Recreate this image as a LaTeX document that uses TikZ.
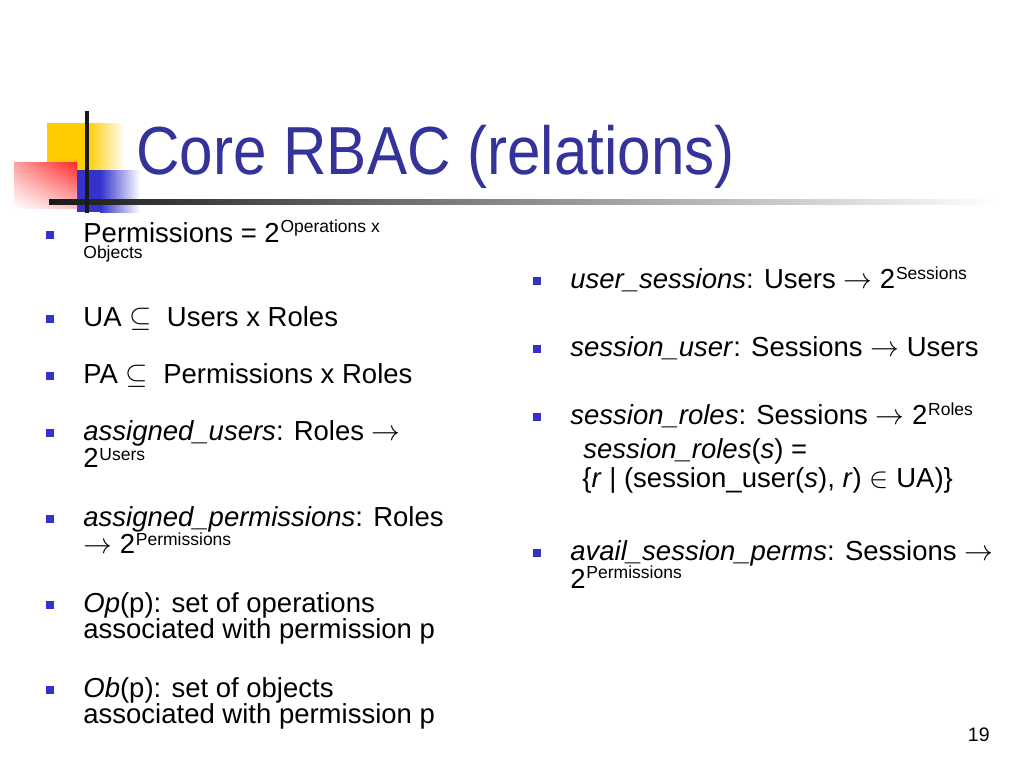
\documentclass[tikz,border=0pt]{standalone}
\usepackage{fontspec}
\setmainfont{Liberation Sans}
\usetikzlibrary{shadings}
\definecolor{titleblue}{RGB}{51,51,153}
\definecolor{bulletblue}{RGB}{51,51,204}
\definecolor{sqyellow}{RGB}{255,204,0}
\definecolor{sqred}{RGB}{255,40,40}
\begin{document}
\begin{tikzpicture}[x=0.5pt,y=-0.5pt,
	txt/.style={anchor=base west,inner sep=0pt,font=\fontsize{13.75}{16}\selectfont},
	sup/.style={anchor=base west,inner sep=0pt,font=\fontsize{8.75}{10}\selectfont},
	bul/.style={fill=bulletblue,inner sep=0pt,minimum size=4pt}]
		\fill[white] (0,0) rectangle (1024,768);
		\useasboundingbox (0,0) rectangle (1024,768);
		
		% corner squares
		\fill[sqyellow] (47,123) rectangle (87,170);
		\shade[left color=sqyellow,right color=white] (87,123) rectangle (125,170);
		\fill[bulletblue] (77,170) rectangle (100,212);
		\shade[left color=bulletblue,right color=white] (100,170) rectangle (140,212);
		\shade[upper right=sqred,upper left=sqred!45,lower right=sqred!30,lower left=white]
			(14,162) rectangle (77,208);
		\shade[left color=black!90,right color=white] (49,199) rectangle (1000,204);
		\draw[line width=1.8pt,black!90] (87,111) -- (87,213);
		
		\node[anchor=base west,inner sep=0pt,text=titleblue,xscale=0.885,
			font=\fontsize{34}{40}\selectfont] (title) at (136,174) {Core RBAC (relations)};
		
		% left column
		\node[bul] (b1) at (50,235) {};
		\node[txt] (perm) at (83,242) {Permissions = 2};
		\node[sup] (permsup) at ([yshift=5pt]perm.base east) {Operations x};
		\node[sup] (permobj) at (83,258) {Objects};
		
		\node[bul] (b2) at (50,319) {};
		\node[txt] (ua) at (83,326) {UA $\subseteq$\ \ Users x Roles};
		
		\node[bul] (b3) at (50,376) {};
		\node[txt] (pa) at (83,383) {PA $\subseteq$\ \ Permissions x Roles};
		
		\node[bul] (b4) at (50,433) {};
		\node[txt] (au) at (83,440) {\textit{assigned\_users}: Roles $\rightarrow$};
		\node[txt] (autwo) at (83,467) {2};
		\node[sup] (ausup) at ([yshift=3.5pt]autwo.base east) {Users};
		
		\node[bul] (b5) at (50,519) {};
		\node[txt] (ap) at (83,526) {\textit{assigned\_permissions}: Roles};
		\node[txt] (aptwo) at (83,553) {$\rightarrow$ 2};
		\node[sup] (apsup) at ([yshift=4pt]aptwo.base east) {Permissions};
		
		\node[bul] (b6) at (50,605) {};
		\node[txt] (op) at (83,612) {\textit{Op}(p): set of operations};
		\node[txt] (opnext) at (83,638) {associated with permission p};
		
		\node[bul] (b7) at (50,690) {};
		\node[txt] (ob) at (83,697) {\textit{Ob}(p): set of objects};
		\node[txt] (obnext) at (83,723) {associated with permission p};
		
		% right column
		\node[bul] (r1) at (537,281) {};
		\node[txt] (us) at (570,288) {\textit{user\_sessions}: Users $\rightarrow$ 2};
		\node[sup] (ussup) at ([yshift=4.5pt]us.base east) {Sessions};
		
		\node[bul] (r2) at (537,349) {};
		\node[txt] (su) at (570,356) {\textit{session\_user}: Sessions $\rightarrow$ Users};
		
		\node[bul] (r3) at (537,417) {};
		\node[txt] (sr) at (570,424) {\textit{session\_roles}: Sessions $\rightarrow$ 2};
		\node[sup] (srsup) at ([yshift=4.5pt]sr.base east) {Roles};
		\node[txt] (srdef) at (583,458) {\textit{session\_roles}(\textit{s}) =};
		\node[txt] (srset) at (582,487) {\{\textit{r} | (session\_user(\textit{s}), \textit{r}) $\in$ UA)\}};
		
		\node[bul] (r4) at (537,553) {};
		\node[txt] (asp) at (570,560) {\textit{avail\_session\_perms}: Sessions $\rightarrow$};
		\node[txt] (asptwo) at (570,588) {2};
		\node[sup] (aspsup) at ([yshift=5pt]asptwo.base east) {Permissions};
		
		\node[anchor=base east,inner sep=0pt,font=\fontsize{9.75}{12}\selectfont] (page) at (990,741) {19};
	\end{tikzpicture}
\end{document}
